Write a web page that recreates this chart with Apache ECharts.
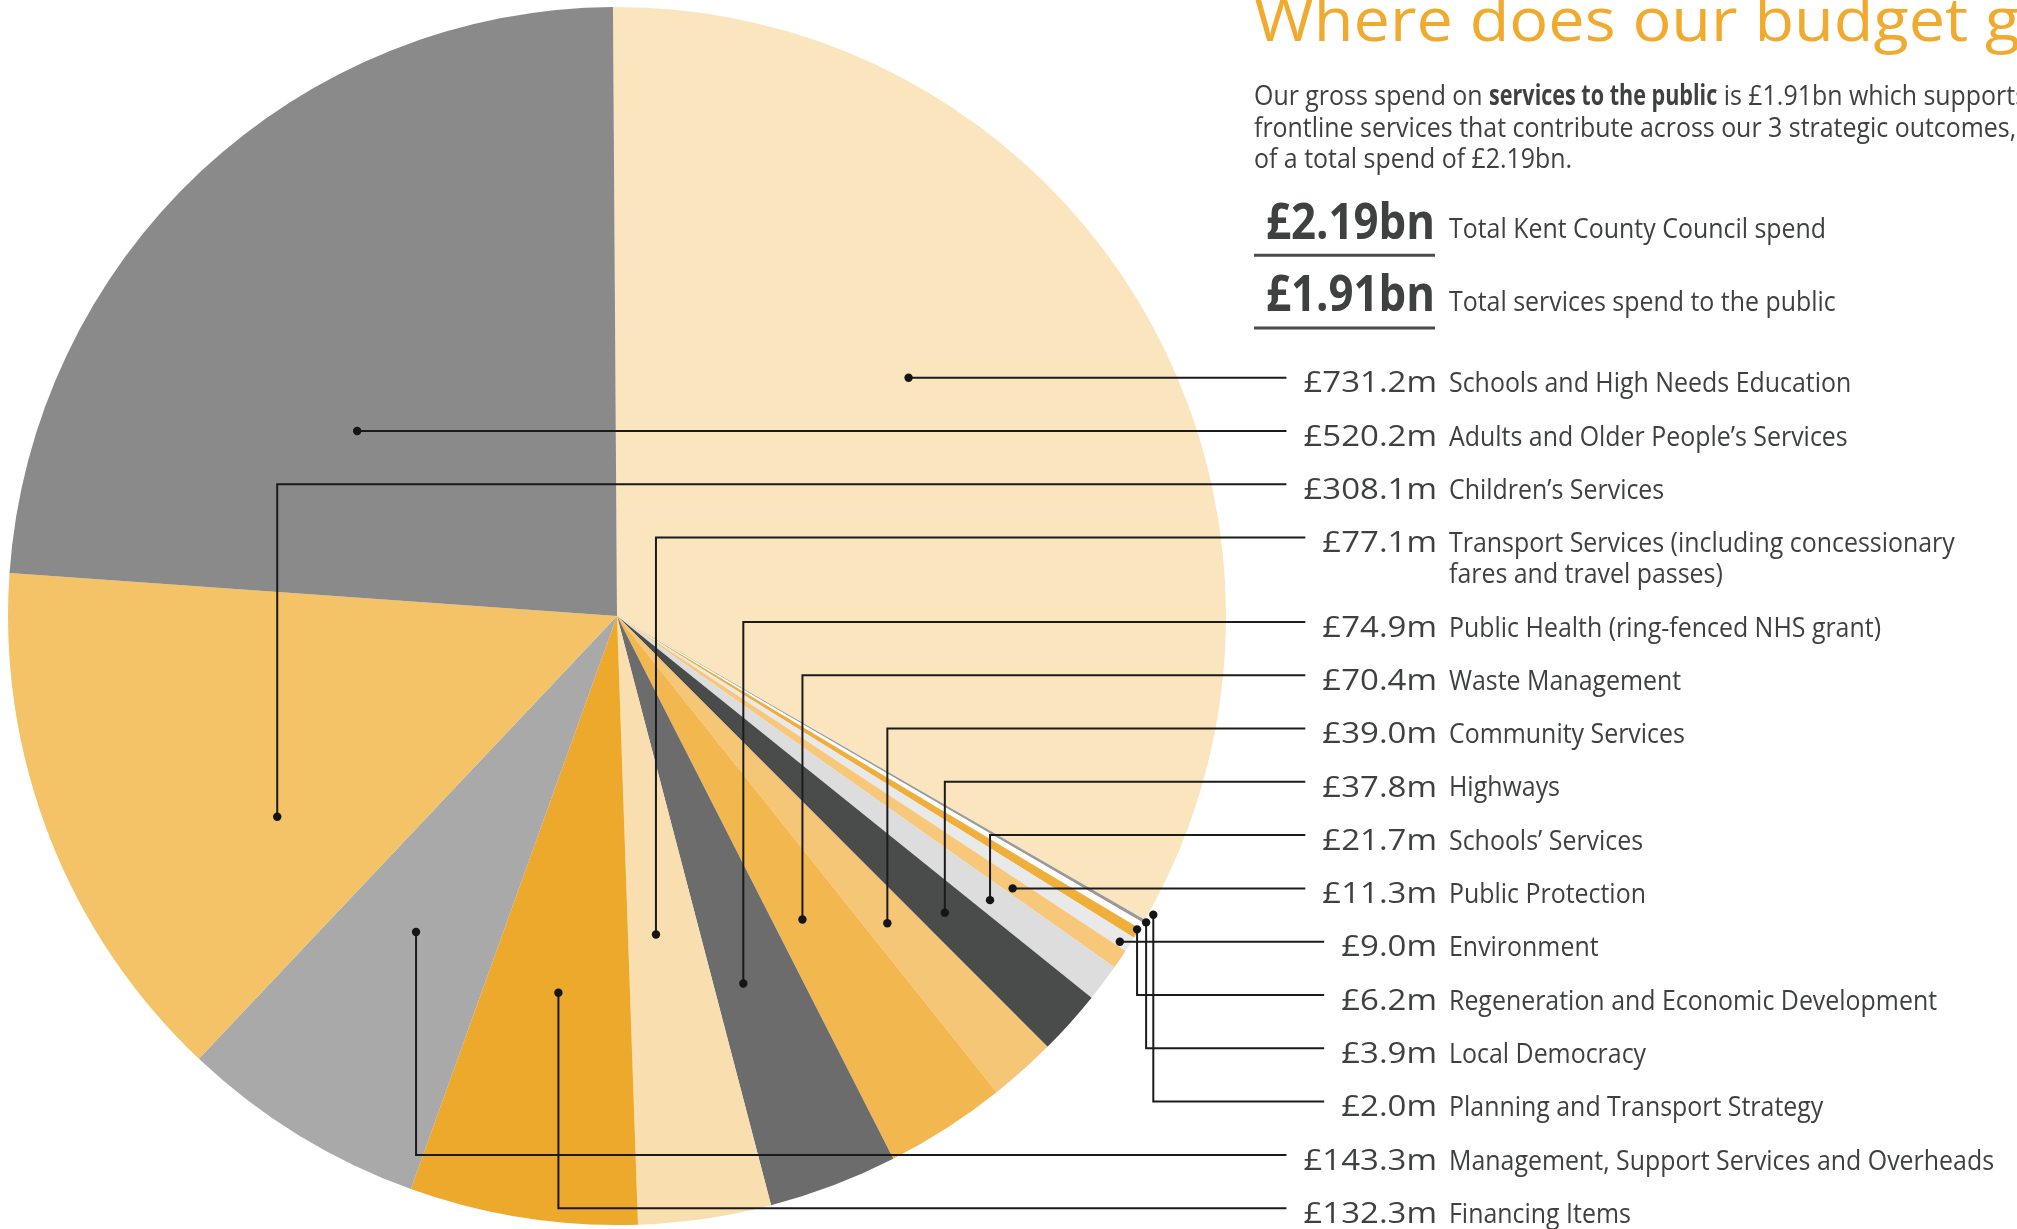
<!DOCTYPE html>
<html>
<head>
<meta charset="utf-8">
<title>Where does our budget go?</title>
<script src="https://cdn.jsdelivr.net/npm/echarts@6/dist/echarts.min.js"></script>
<style>
  html, body { margin: 0; padding: 0; background: #fff; }
  #chart { width: 2017px; height: 1229px; }
</style>
</head>
<body>
<div id="chart"></div>
<script>
// services, in the order they are listed on the right
const categories = [
  "Schools and High Needs Education",
  "Adults and Older People’s Services",
  "Children’s Services",
  "Transport Services (including concessionary\nfares and travel passes)",
  "Public Health (ring-fenced NHS grant)",
  "Waste Management",
  "Community Services",
  "Highways",
  "Schools’ Services",
  "Public Protection",
  "Environment",
  "Regeneration and Economic Development",
  "Local Democracy",
  "Planning and Transport Strategy",
  "Management, Support Services and Overheads",
  "Financing Items"
];
// gross spend, £m
const values = [731.2, 520.2, 308.1, 77.1, 74.9, 70.4, 39.0, 37.8, 21.7, 11.3, 9.0, 6.2, 3.9, 2.0, 143.3, 132.3];
// order of the slices round the pie, clockwise from 12 o'clock
const pieOrder = [0, 13, 12, 11, 10, 9, 8, 7, 6, 5, 4, 3, 15, 14, 2, 1];
// headline totals, £bn
const totals = [2.19, 1.91];
const totalLabels = ["Total Kent County Council spend", "Total services spend to the public"];

const colors = [
  "#fbe5be", "#898a89", "#f4c267", "#f9deb0", "#6b6c6b", "#f2b84f", "#f6c677", "#4a4c4b",
  "#dcdddc", "#f7c879", "#e8e9e8", "#f0ae3a", "#ffffff", "#9a9a9a", "#a8a9a8", "#eda92b"
];
// where each leader line picks up its slice: t = fraction through the slice angle,
// rf = fraction of radius ("h" = dot sits on the label row itself)
const anchors = [
  { mode: "h", t: 0.425 }, { mode: "h", t: 0.367 },
  { mode: "v", t: 0.317, rf: 0.648 }, { mode: "v", t: 0.606, rf: 0.527 },
  { mode: "v", t: 0.65, rf: 0.638 }, { mode: "v", t: 0.616, rf: 0.584 },
  { mode: "v", t: 0.566, rf: 0.672 }, { mode: "v", t: 0.537, rf: 0.726 },
  { mode: "v", t: 0.577, rf: 0.77 }, { mode: "h", t: 0.63 },
  { mode: "h", t: 0.7 }, { mode: "v", t: 0.19, rf: 0.997 },
  { mode: "v", t: -0.25, rf: 1.004 }, { mode: "v", t: -2.4, rf: 1.008 },
  { mode: "v", t: 0.537, rf: 0.615 }, { mode: "v", t: 0.497, rf: 0.626 }
];

const FONT = '"Open Sans", "Noto Sans", sans-serif';
const INK = "#3f4040";
const ORANGE = "#f0aa2e";
const MID = 0.26; // baseline sits this many em below the 'middle' line

const L = {
  cx: 617, cy: 616, r: 609,
  left: 1254, valueRight: 1437, nameLeft: 1449,
  rowTop: 391.7, rowStep: 53.3, lineGap: 31,
  leaderRise: 14, leaderGap: 17
};
const VAL = { size: 30, sx: 1.1, weight: "normal" };
const BODY = { size: 28, sx: 0.89, weight: "normal" };
const BOLD = { size: 28, sx: 0.77, weight: "bold" };

const chart = echarts.init(document.getElementById("chart"), null, { renderer: "canvas" });

chart.setOption({
  animation: false,
  backgroundColor: "#fff",
  series: [{
    type: "pie",
    center: [L.cx, L.cy],
    radius: L.r,
    startAngle: 90.38,
    clockwise: true,
    silent: true,
    avoidLabelOverlap: false,
    label: { show: false },
    labelLine: { show: false },
    emphasis: { disabled: true },
    itemStyle: { borderWidth: 0 },
    data: pieOrder.map(i => ({ name: categories[i], value: values[i], itemStyle: { color: colors[i] } }))
  }]
});

const measureCtx = document.createElement("canvas").getContext("2d");
function textWidth(str, o) {
  measureCtx.font = (o.weight || "normal") + " " + o.size + "px " + FONT;
  return measureCtx.measureText(str).width * (o.sx || 1);
}

// text placed by its baseline
function text(x, base, str, o) {
  return {
    type: "text", x: x, y: base - MID * o.size, scaleX: o.sx || 1, z: 110, silent: true,
    style: {
      text: str, fontSize: o.size, fontFamily: FONT, fontWeight: o.weight || "normal",
      fill: o.color || INK, align: o.align || "left", textAlign: o.align || "left",
      verticalAlign: "middle", textVerticalAlign: "middle"
    }
  };
}

const graphics = [];

// title and intro
graphics.push(text(L.left, 39.5, "Where does our budget go?", { size: 60, sx: 1.08, color: ORANGE }));
let px0 = L.left;
[["Our gross spend on ", BODY], ["services to the public", BOLD], [" is £1.91bn which supports", BODY]].forEach(([s, o]) => {
  graphics.push(text(px0, 104, s, o));
  px0 += textWidth(s, o);
});
graphics.push(text(L.left, 136, "frontline services that contribute across our 3 strategic outcomes, out", BODY));
graphics.push(text(L.left, 167, "of a total spend of £2.19bn.", BODY));

// headline totals with underlines
const totalBase = [237.3, 310];
totals.forEach((v, k) => {
  graphics.push(text(L.valueRight - 2, totalBase[k], "£" + v.toFixed(2) + "bn", { size: 50, sx: 0.875, weight: "bold", align: "right" }));
  graphics.push(text(L.nameLeft, totalBase[k], totalLabels[k], BODY));
  graphics.push({ type: "rect", z: 110, silent: true,
    shape: { x: L.left, y: totalBase[k] + 16.5, width: L.valueRight - 2 - L.left, height: 3 },
    style: { fill: "#4a4b4b" } });
});

// label rows
const rowBase = [];
let extra = 0;
categories.forEach((name, i) => {
  const base = L.rowTop + i * L.rowStep + extra;
  rowBase.push(base);
  const lines = name.split("\n");
  const val = "£" + values[i].toFixed(1) + "m";
  graphics.push(text(L.valueRight, base, val, Object.assign({ align: "right" }, VAL)));
  lines.forEach((ln, k) => graphics.push(text(L.nameLeft, base + k * L.lineGap, ln, BODY)));
  extra += (lines.length - 1) * L.lineGap;
});

// leader lines from the pie's own slice layout
const pieData = chart.getModel().getSeriesByIndex(0).getData();
const leaders = [], dots = [];
pieOrder.forEach((cat, idx) => {
  const lay = pieData.getItemLayout(idx);
  const an = anchors[cat];
  const a = lay.startAngle + an.t * (lay.endAngle - lay.startAngle);
  const rowY = rowBase[cat] - L.leaderRise;
  let px, py;
  if (an.mode === "h") {
    const rr = (rowY - lay.cy) / Math.sin(a);
    px = lay.cx + rr * Math.cos(a);
    py = rowY;
  } else {
    px = lay.cx + an.rf * lay.r * Math.cos(a);
    py = lay.cy + an.rf * lay.r * Math.sin(a);
  }
  const val = "£" + values[cat].toFixed(1) + "m";
  const endX = L.valueRight - textWidth(val, VAL) - L.leaderGap;
  const pts = an.mode === "h" ? [[px, py], [endX, rowY]] : [[px, py], [px, rowY], [endX, rowY]];
  leaders.push({ type: "polyline", z: 120, silent: true, shape: { points: pts },
    style: { stroke: "#1b1b1b", lineWidth: 2, fill: null, lineJoin: "miter" } });
  dots.push({ type: "circle", z: 121, silent: true, shape: { cx: px, cy: py, r: 4.2 }, style: { fill: "#151515" } });
});

chart.setOption({ graphic: { elements: graphics.concat(leaders, dots) } });
</script>
</body>
</html>
